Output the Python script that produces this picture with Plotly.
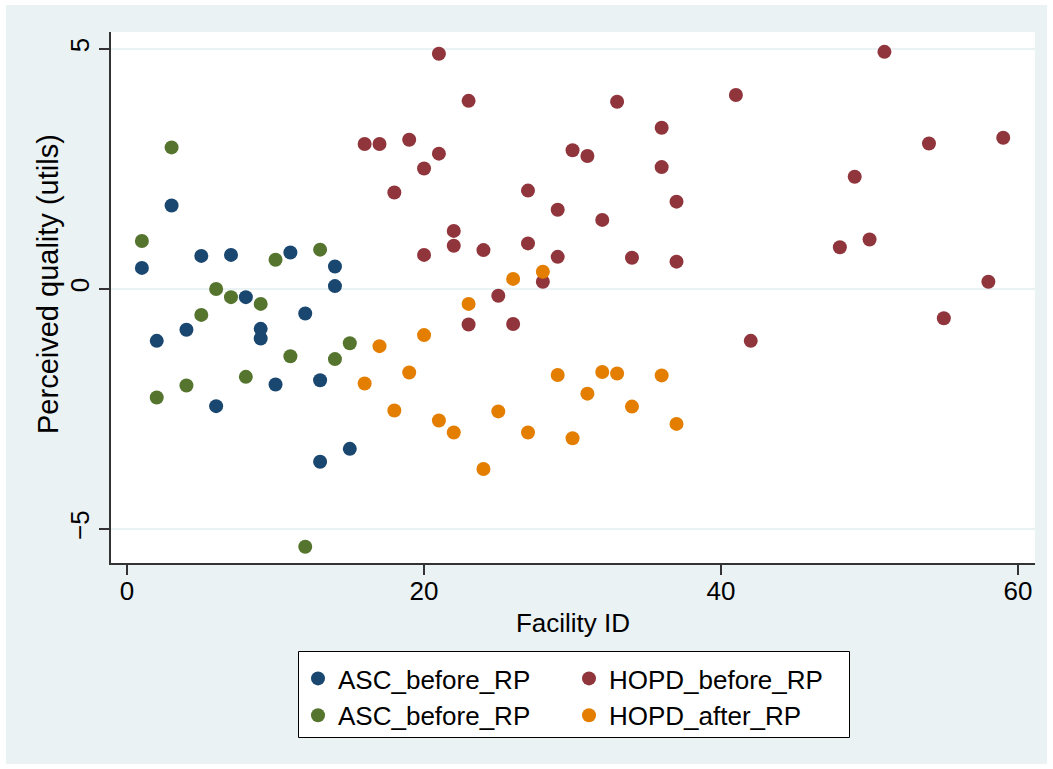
import plotly.graph_objects as go

# ---- data ----
asc1_x = [1, 2, 3, 4, 5, 6, 7, 8, 9, 9, 10, 11, 12, 13, 13, 14, 14, 15]
asc1_y = [0.44, -1.08, 1.74, -0.85, 0.69, -2.44, 0.71, -0.17, -0.83, -1.03,
          -1.99, 0.76, -0.51, -1.90, -3.60, 0.47, 0.06, -3.33]

asc2_x = [1, 2, 3, 4, 5, 6, 7, 8, 9, 10, 11, 12, 13, 14, 15]
asc2_y = [1.00, -2.26, 2.95, -2.01, -0.54, 0.00, -0.17, -1.83, -0.31, 0.61,
          -1.40, -5.37, 0.82, -1.46, -1.13]

hopd_before_x = [16, 17, 18, 19, 20, 20, 21, 21, 22, 22, 23, 23, 24, 25, 26,
                 27, 27, 28, 29, 29, 30, 31, 32, 33, 34, 36, 36, 37, 37,
                 41, 42, 48, 49, 50, 51, 54, 55, 58, 59]
hopd_before_y = [3.02, 3.02, 2.01, 3.11, 2.51, 0.71, 4.90, 2.82, 1.21, 0.90,
                 3.92, -0.74, 0.81, -0.14, -0.73, 2.05, 0.95, 0.15, 1.65, 0.67,
                 2.89, 2.77, 1.44, 3.90, 0.65, 3.36, 2.54, 1.82, 0.57,
                 4.04, -1.08, 0.87, 2.34, 1.03, 4.94, 3.03, -0.61, 0.15, 3.15]

hopd_after_x = [16, 17, 18, 19, 20, 21, 22, 23, 24, 25, 26, 27, 28, 29, 30,
                31, 32, 33, 34, 36, 37]
hopd_after_y = [-1.97, -1.19, -2.53, -1.74, -0.96, -2.74, -2.99, -0.31, -3.75,
                -2.55, 0.21, -2.99, 0.36, -1.79, -3.11, -2.18, -1.73, -1.76,
                -2.45, -1.80, -2.81]

x_ticks = [0, 20, 40, 60]
y_ticks = [-5, 0, 5]

caption = "Figure 3: Heterogeneity in perceived quality"
x_title = "Facility ID"
y_title = "Perceived quality (utils)"

# ---- styling ----
C_NAVY = "#1a476f"
C_MAROON = "#90353b"
C_GREEN = "#55752f"
C_ORANGE = "#e37e00"
BG = "#eaf2f3"
FONT = "Liberation Sans, Arial, sans-serif"

W, H = 1053, 769
L, R, T, B = 111, 18, 32, 206
PW, PH = W - L - R, H - T - B


def px2paper_x(px):
    return (px - L) / PW


def px2paper_y(py):
    return (H - B - py) / PH


fig = go.Figure()
msize = 14
fig.add_trace(go.Scatter(x=asc1_x, y=asc1_y, mode="markers", name="ASC_before_RP",
                         legend="legend",
                         marker=dict(color=C_NAVY, size=msize, line=dict(width=0))))
fig.add_trace(go.Scatter(x=hopd_before_x, y=hopd_before_y, mode="markers", name="HOPD_before_RP",
                         legend="legend2",
                         marker=dict(color=C_MAROON, size=msize, line=dict(width=0))))
fig.add_trace(go.Scatter(x=asc2_x, y=asc2_y, mode="markers", name="ASC_before_RP",
                         legend="legend",
                         marker=dict(color=C_GREEN, size=msize, line=dict(width=0))))
fig.add_trace(go.Scatter(x=hopd_after_x, y=hopd_after_y, mode="markers", name="HOPD_after_RP",
                         legend="legend2",
                         marker=dict(color=C_ORANGE, size=msize, line=dict(width=0))))

# white page border strips around the light background + legend box
shapes = []
for (x0, y0, x1, y1) in [(0, 0, W, 5), (0, 764, W, H), (0, 0, 6, H), (1047, 0, W, H)]:
    shapes.append(dict(type="rect", xref="paper", yref="paper",
                       x0=px2paper_x(x0), x1=px2paper_x(x1),
                       y0=px2paper_y(y0), y1=px2paper_y(y1),
                       fillcolor="white", line=dict(width=0), layer="below"))
shapes.append(dict(type="rect", xref="paper", yref="paper",
                   x0=px2paper_x(298.5), x1=px2paper_x(849.5),
                   y0=px2paper_y(651.5), y1=px2paper_y(737.5),
                   fillcolor="white", line=dict(width=1, color="black"), layer="below"))

leg_common = dict(
    orientation="v",
    xanchor="left", yanchor="top",
    bgcolor="rgba(0,0,0,0)", borderwidth=0,
    font=dict(family=FONT, size=26, color="black"),
    traceorder="normal", tracegroupgap=0,
)

fig.update_layout(
    width=W, height=H,
    margin=dict(l=L, r=R, t=T, b=B, pad=0),
    paper_bgcolor=BG,
    plot_bgcolor="white",
    font=dict(family=FONT, size=26, color="black"),
    showlegend=True,
    shapes=shapes,
    legend=dict(x=px2paper_x(298), y=px2paper_y(655), **leg_common),
    legend2=dict(x=px2paper_x(569), y=px2paper_y(655), **leg_common),
    annotations=[
        dict(text=caption, xref="paper", yref="paper",
             x=px2paper_x(61), y=px2paper_y(0), xanchor="left", yanchor="bottom",
             showarrow=False, font=dict(family="Liberation Serif, serif", size=25, color="black")),
        dict(text=y_title, xref="paper", yref="paper",
             x=px2paper_x(48), y=px2paper_y(284), xanchor="center", yanchor="middle",
             textangle=-90, showarrow=False,
             font=dict(family=FONT, size=29, color="black")),
    ],
    xaxis=dict(
        range=[-1.08, 61.14],
        tickvals=x_ticks, ticks="outside", ticklen=10, tickwidth=2, tickcolor="#333333",
        showline=True, linewidth=2, linecolor="#333333",
        showgrid=False, zeroline=False,
        tickfont=dict(size=26), ticklabelstandoff=-6,
        title=dict(text=x_title, font=dict(size=26), standoff=9),
    ),
    yaxis=dict(
        range=[-5.708, 5.354],
        tickvals=y_ticks, ticks="outside", ticklen=10, tickwidth=2, tickcolor="#333333",
        showline=True, linewidth=2, linecolor="#333333",
        showgrid=True, gridcolor=BG, gridwidth=2, zeroline=False,
        tickangle=-90,
        tickfont=dict(size=26),
    ),
)

fig.write_html("out.html")
